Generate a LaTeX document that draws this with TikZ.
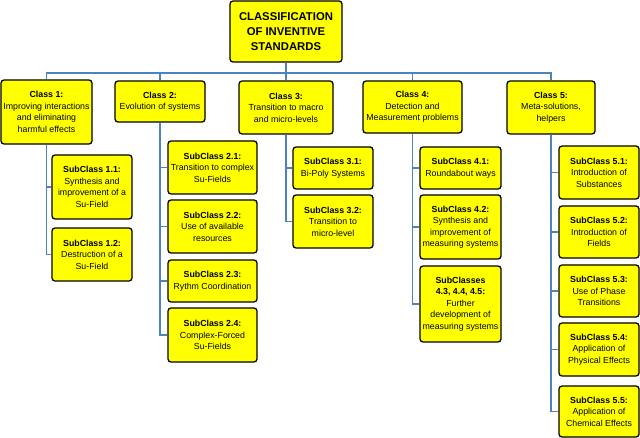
\documentclass[tikz,border=0pt]{standalone}
\usepackage{fontspec}
\setmainfont{Liberation Sans}
\definecolor{linkblue}{RGB}{79,129,189}
\definecolor{boxyellow}{RGB}{255,255,0}
\tikzset{
  box/.style={draw=black, line width=1.3pt, fill=boxyellow, rounded corners=3pt,
    align=center, inner sep=1pt, font=\fontsize{8.8}{11.5}\selectfont},
  titlebox/.style={box, font=\fontsize{11.3}{15}\selectfont\bfseries},
  link/.style={draw=linkblue, line width=1.2pt}
}
\begin{document}
\begin{tikzpicture}[x=1pt,y=-1pt]
            \useasboundingbox (0,0) rectangle (640,438);
            % top of the tree
                \node [titlebox, minimum width=112pt, minimum height=61pt] (top) at (286,31.5) {CLASSIFICATION\\OF INVENTIVE\\STANDARDS};
                \coordinate (bus) at (286,73);
            % classes
                \node [box, minimum width=91pt, minimum height=64pt] (c1) at (46.5,112) {\textbf{Class 1:}\\Improving interactions\\and eliminating\\harmful effects};
                \node [box, minimum width=90pt, minimum height=41pt] (c2) at (160,101.5) {\textbf{Class 2:}\\Evolution of systems};
                \node [box, minimum width=94pt, minimum height=53pt] (c3) at (286,107.5) {\textbf{Class 3:}\\Transition to macro\\and micro-levels};
                \node [box, minimum width=99pt, minimum height=52pt] (c4) at (412.5,107) {\textbf{Class 4:}\\Detection and\\Measurement problems};
                \node [box, minimum width=88pt, minimum height=53pt] (c5) at (551,107.5) {\textbf{Class 5:}\\Meta-solutions,\\helpers};
            % subclasses of class 1
                \node [box, minimum width=80pt, minimum height=64pt] (s11) at (92,187) {\textbf{SubClass 1.1:}\\Synthesis and\\improvement of a\\Su-Field};
                \node [box, minimum width=80pt, minimum height=53pt] (s12) at (92,254.5) {\textbf{SubClass 1.2:}\\Destruction of a\\Su-Field};
            % subclasses of class 2
                \node [box, minimum width=89pt, minimum height=53pt] (s21) at (212.5,167.5) {\textbf{SubClass 2.1:}\\Transition to complex\\Su-Fields};
                \node [box, minimum width=89pt, minimum height=53pt] (s22) at (212.5,226.5) {\textbf{SubClass 2.2:}\\Use of available\\resources};
                \node [box, minimum width=89pt, minimum height=42pt] (s23) at (212.5,281) {\textbf{SubClass 2.3:}\\Rythm Coordination};
                \node [box, minimum width=89pt, minimum height=54pt] (s24) at (212.5,335) {\textbf{SubClass 2.4:}\\Complex-Forced\\Su-Fields};
            % subclasses of class 3
                \node [box, minimum width=80pt, minimum height=42pt] (s31) at (333,168) {\textbf{SubClass 3.1:}\\Bi-Poly Systems};
                \node [box, minimum width=80pt, minimum height=53pt] (s32) at (333,221.5) {\textbf{SubClass 3.2:}\\Transition to\\micro-level};
            % subclasses of class 4
                \node [box, minimum width=81pt, minimum height=42pt] (s41) at (460.5,168) {\textbf{SubClass 4.1:}\\Roundabout ways};
                \node [box, minimum width=81pt, minimum height=64pt] (s42) at (460.5,227) {\textbf{SubClass 4.2:}\\Synthesis and\\improvement of\\measuring systems};
                \node [box, minimum width=81pt, minimum height=76pt] (s43) at (460.5,304) {\textbf{SubClasses}\\\textbf{4.3, 4.4, 4.5:}\\Further\\development of\\measuring systems};
            % subclasses of class 5
                \node [box, minimum width=80pt, minimum height=53pt] (s51) at (599,172.5) {\textbf{SubClass 5.1:}\\Introduction of\\Substances};
                \node [box, minimum width=80pt, minimum height=52pt] (s52) at (599,232) {\textbf{SubClass 5.2:}\\Introduction of\\Fields};
                \node [box, minimum width=80pt, minimum height=52pt] (s53) at (599,291) {\textbf{SubClass 5.3:}\\Use of Phase\\Transitions};
                \node [box, minimum width=80pt, minimum height=53pt] (s54) at (599,349.5) {\textbf{SubClass 5.4:}\\Application of\\Physical Effects};
                \node [box, minimum width=80pt, minimum height=51pt] (s55) at (599,411.5) {\textbf{SubClass 5.5:}\\Application of\\Chemical Effects};
            % connectors
                \begin{scope}[on background layer/.try]
                \draw [link] (top.south) -- (bus);
                \foreach \c in {c1,c2,c3,c4,c5}
                    \draw [link] (\c.north) |- (bus);
                \foreach \s in {s11,s12}
                    \draw [link] (c1.south) |- (\s.west);
                \foreach \s in {s21,s22,s23,s24}
                    \draw [link] (c2.south) |- (\s.west);
                \foreach \s in {s31,s32}
                    \draw [link] (c3.south) |- (\s.west);
                \foreach \s in {s41,s42,s43}
                    \draw [link] (c4.south) |- (\s.west);
                \foreach \s in {s51,s52,s53,s54,s55}
                    \draw [link] (c5.south) |- (\s.west);
                \end{scope}
\end{tikzpicture}
\end{document}
